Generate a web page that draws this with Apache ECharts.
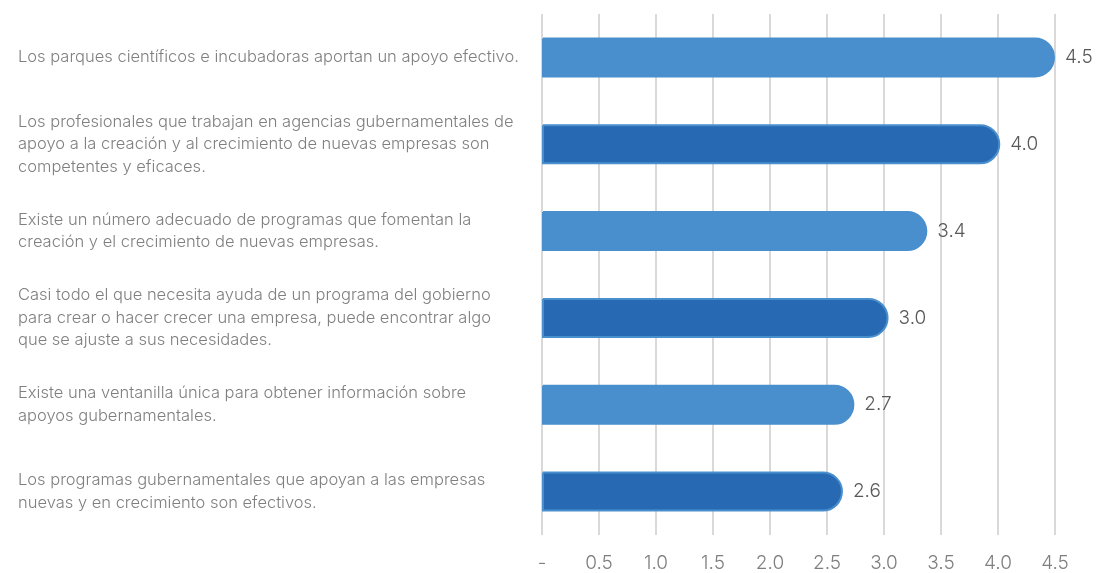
<!DOCTYPE html>
<html>
<head>
<meta charset="utf-8">
<script src="https://cdn.jsdelivr.net/npm/echarts@6/dist/echarts.min.js"></script>
<style>
  html, body { margin: 0; padding: 0; background: #fff; }
  #chart { width: 1097px; height: 573px; }
</style>
</head>
<body>
<div id="chart"></div>
<script>
// categories, top to bottom
const categories = [
  'Los parques científicos e incubadoras aportan un apoyo efectivo.',
  'Los profesionales que trabajan en agencias gubernamentales de\napoyo a la creación y al crecimiento de nuevas empresas son\ncompetentes y eficaces.',
  'Existe un número adecuado de programas que fomentan la\ncreación y el crecimiento de nuevas empresas.',
  'Casi todo el que necesita ayuda de un programa del gobierno\npara crear o hacer crecer una empresa, puede encontrar algo\nque se ajuste a sus necesidades.',
  'Existe una ventanilla única para obtener información sobre\napoyos gubernamentales.',
  'Los programas gubernamentales que apoyan a las empresas\nnuevas y en crecimiento son efectivos.'
]
const values = [4.5, 4.02, 3.38, 3.04, 2.74, 2.64]
const tickMin = 0
const tickMax = 4.5
const tickStep = 0.5

const light = '#4a8fcd'
const dark = '#276ab3'
const font = 'Inter, "Open Sans", sans-serif'

const chart = echarts.init(document.getElementById('chart'))

chart.setOption({
  animation: false,
  grid: {
    left: 542,
    right: 42,
    top: 14,
    bottom: 38
  },
  xAxis: {
    type: 'value',
    min: tickMin,
    max: tickMax,
    interval: tickStep,
    axisLine: { show: false },
    axisTick: { show: false },
    splitLine: {
      show: true,
      lineStyle: { color: '#d9d9d9', width: 2 }
    },
    axisLabel: {
      margin: 19,
      fontSize: 19,
      color: '#7f7f7f',
      fontWeight: 300,
      fontFamily: font,
      formatter: v => v === 0 ? '-' : v.toFixed(1)
    }
  },
  yAxis: {
    type: 'category',
    inverse: true,
    data: categories,
    axisLine: { show: false },
    axisTick: { show: false },
    axisLabel: {
      align: 'left',
      margin: 524,
      fontSize: 16.5,
      lineHeight: 22.5,
      color: '#7f7f7f',
      fontWeight: 300,
      fontFamily: font
    }
  },
  series: [{
    type: 'bar',
    barWidth: 40,
    data: values.map((v, i) => ({
      value: v,
      itemStyle: {
        color: i % 2 === 0 ? light : dark,
        borderColor: light,
        borderWidth: 2,
        borderRadius: [0, 20, 20, 0]
      }
    })),
    label: {
      show: true,
      position: 'right',
      distance: 10,
      fontSize: 19,
      color: '#595959',
      fontWeight: 300,
      fontFamily: font,
      formatter: p => p.value.toFixed(1)
    }
  }]
})
</script>
</body>
</html>
